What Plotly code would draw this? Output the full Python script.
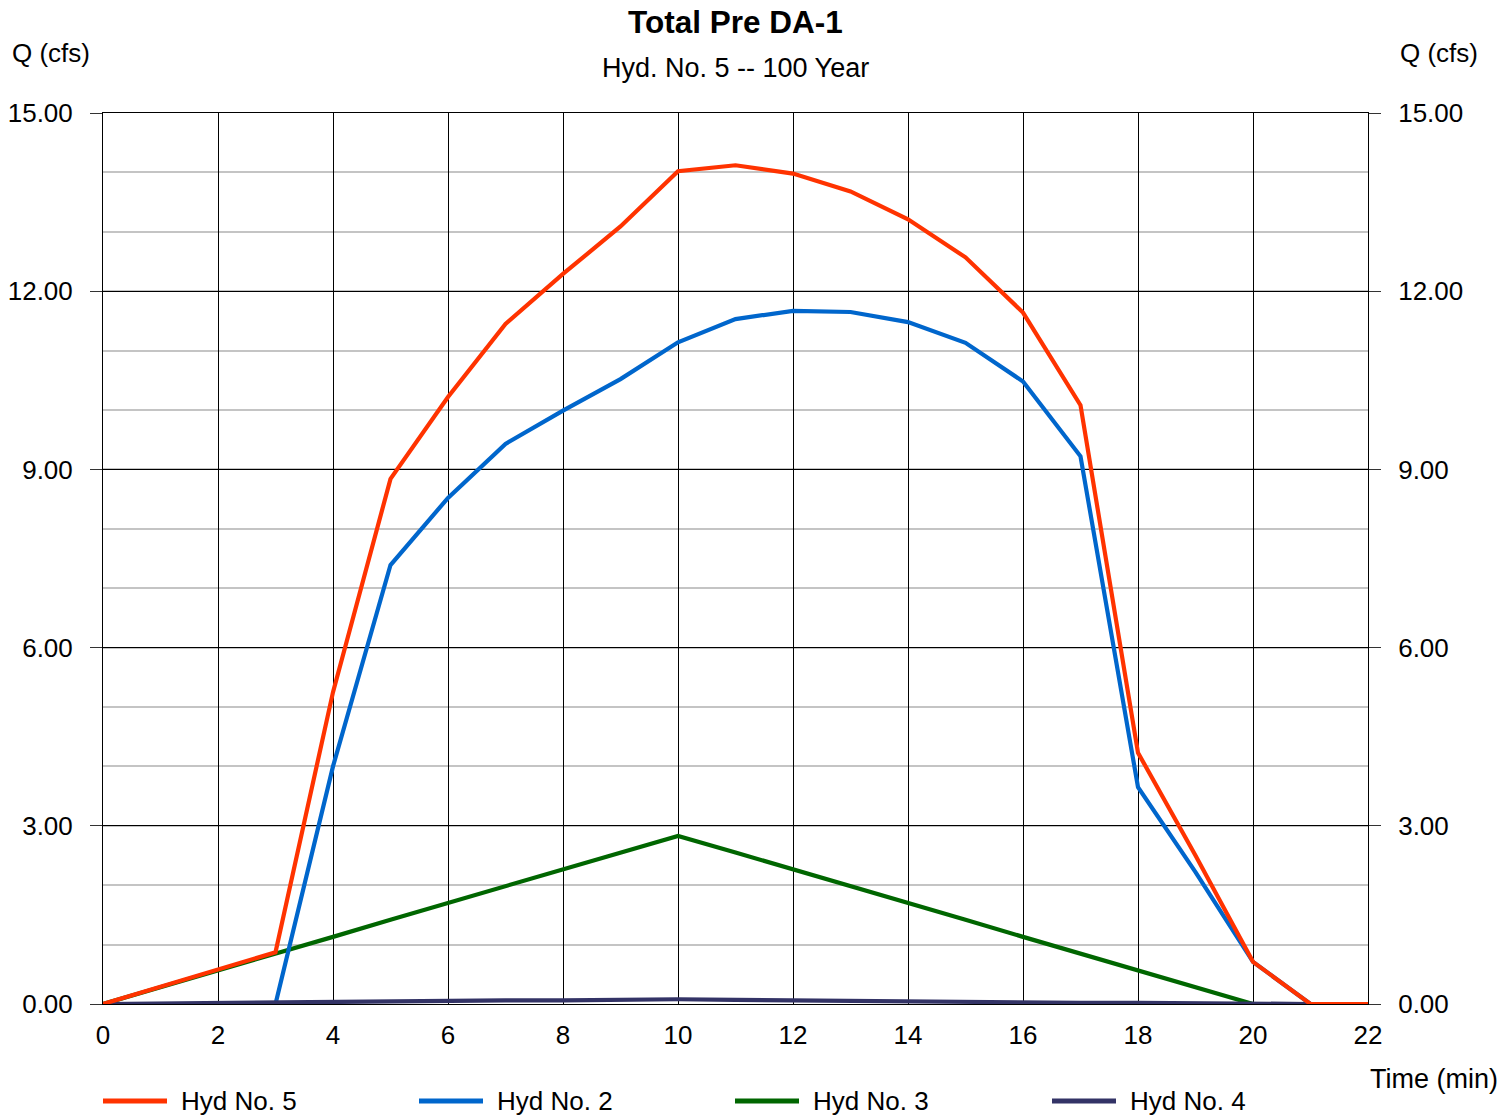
import plotly.graph_objects as go

# Hydrograph ordinates (cfs) at 1-minute steps
time_hyd5 = list(range(0, 23))
q_hyd5 = [0.00, 0.29, 0.58, 0.87, 5.25, 8.84, 10.22, 11.45, 12.29, 13.09, 14.02,
          14.12, 13.98, 13.68, 13.21, 12.57, 11.64, 10.08, 4.23, 2.50, 0.71, 0.00, 0.00]

time_hyd2 = list(range(0, 22))
q_hyd2 = [0.00, 0.00, 0.00, 0.00, 4.00, 7.39, 8.52, 9.43, 9.99, 10.52, 11.14,
          11.53, 11.67, 11.65, 11.48, 11.13, 10.48, 9.22, 3.65, 2.22, 0.71, 0.00]

time_hyd3 = list(range(0, 21))
q_hyd3 = [0.00, 0.28, 0.57, 0.85, 1.13, 1.42, 1.70, 1.98, 2.27, 2.55, 2.83,
          2.55, 2.27, 1.98, 1.70, 1.42, 1.13, 0.85, 0.57, 0.28, 0.00]

time_hyd4 = list(range(0, 22))
q_hyd4 = [0.00, 0.01, 0.02, 0.02, 0.03, 0.04, 0.05, 0.06, 0.06, 0.07, 0.08,
          0.07, 0.06, 0.06, 0.05, 0.04, 0.03, 0.02, 0.02, 0.01, 0.00, 0.00]

series_names = ["Hyd No. 5", "Hyd No. 2", "Hyd No. 3", "Hyd No. 4"]
series_colors = ["#FF3300", "#0066CC", "#006600", "#333366"]

x_ticks = list(range(0, 23, 2))
y_ticks = [0, 3, 6, 9, 12, 15]

FONT = "Liberation Sans, Arial, sans-serif"
W, H = 1512, 1116
L, R, T, B = 103, 144, 113, 112

fig = go.Figure()

# draw order: Hyd 3, Hyd 2, Hyd 4, then Hyd 5 on top
order = [
    (time_hyd3, q_hyd3, 2),
    (time_hyd2, q_hyd2, 1),
    (time_hyd4, q_hyd4, 3),
    (time_hyd5, q_hyd5, 0),
]
for xs, ys, idx in order:
    fig.add_trace(go.Scatter(
        x=xs, y=ys, mode="lines", name=series_names[idx],
        line=dict(color=series_colors[idx], width=4.2),
        showlegend=False,
    ))

# right-hand Q axis carries the same scale
fig.add_trace(go.Scatter(x=[0, 22], y=[0, 15], yaxis="y2", mode="lines",
                         line=dict(width=0), hoverinfo="skip", showlegend=False,
                         opacity=0))

tick_font = dict(family=FONT, size=26, color="black")

fig.update_layout(
    width=W, height=H,
    margin=dict(l=L, r=R, t=T, b=B, autoexpand=False),
    paper_bgcolor="white", plot_bgcolor="white",
    font=dict(family=FONT, size=26, color="black"),
    xaxis=dict(
        range=[0, 22], tickvals=x_ticks, ticktext=[str(v) for v in x_ticks],
        showgrid=True, gridcolor="black", gridwidth=1,
        showline=True, linecolor="black", linewidth=1, mirror=True,
        ticks="", tickfont=tick_font, ticklabelstandoff=8, zeroline=False,
        automargin=False,
    ),
    yaxis=dict(
        range=[0, 15], tickvals=y_ticks, ticktext=[f"{v:.2f}" for v in y_ticks],
        showgrid=True, gridcolor="black", gridwidth=1,
        minor=dict(dtick=1, showgrid=True, gridcolor="#c4c4c4", gridwidth=2),
        showline=True, linecolor="black", linewidth=1,
        ticks="outside", ticklen=12, tickcolor="#333333", tickwidth=1,
        tickfont=tick_font, ticklabelstandoff=12, zeroline=False,
        automargin=False,
    ),
    yaxis2=dict(
        range=[0, 15], tickvals=y_ticks, ticktext=[f"{v:.2f}" for v in y_ticks],
        overlaying="y", side="right", showgrid=False,
        showline=True, linecolor="black", linewidth=1,
        ticks="outside", ticklen=12, tickcolor="#333333", tickwidth=1,
        tickfont=tick_font, ticklabelstandoff=12, zeroline=False,
        automargin=False,
    ),
)


def px_x(p):
    return (p - L) / (W - L - R)


def px_y(p):
    return (H - B - p) / (H - T - B)


annotations = [
    dict(text="<b>Total Pre DA-1</b>", x=0.5, xref="paper", y=px_y(22), yref="paper",
         xanchor="center", yanchor="middle", showarrow=False,
         font=dict(family=FONT, size=31.5, color="black")),
    dict(text="Hyd. No. 5 -- 100 Year", x=0.5, xref="paper", y=px_y(68), yref="paper",
         xanchor="center", yanchor="middle", showarrow=False,
         font=dict(family=FONT, size=27, color="black")),
    dict(text="Q (cfs)", x=px_x(10), xref="paper", y=px_y(53), yref="paper",
         xanchor="left", yanchor="middle", showarrow=False,
         font=dict(family=FONT, size=26, color="black")),
    dict(text="Q (cfs)", x=px_x(1398), xref="paper", y=px_y(53), yref="paper",
         xanchor="left", yanchor="middle", showarrow=False,
         font=dict(family=FONT, size=26, color="black")),
    dict(text="Time (min)", x=px_x(1368), xref="paper", y=px_y(1079), yref="paper",
         xanchor="left", yanchor="middle", showarrow=False,
         font=dict(family=FONT, size=27, color="black")),
]

# legend row along the bottom
shapes = []
legend_x = [103, 419, 735, 1052]
legend_y = px_y(1101)
for i, name in enumerate(series_names):
    x0 = legend_x[i]
    shapes.append(dict(type="line", xref="paper", yref="paper",
                       x0=px_x(x0), x1=px_x(x0 + 64), y0=legend_y, y1=legend_y,
                       line=dict(color=series_colors[i], width=5)))
    annotations.append(dict(text=name, x=px_x(x0 + 76), xref="paper", y=legend_y,
                            yref="paper", xanchor="left", yanchor="middle",
                            showarrow=False,
                            font=dict(family=FONT, size=26, color="black")))

fig.update_layout(annotations=annotations, shapes=shapes)

fig.write_html("out.html")
